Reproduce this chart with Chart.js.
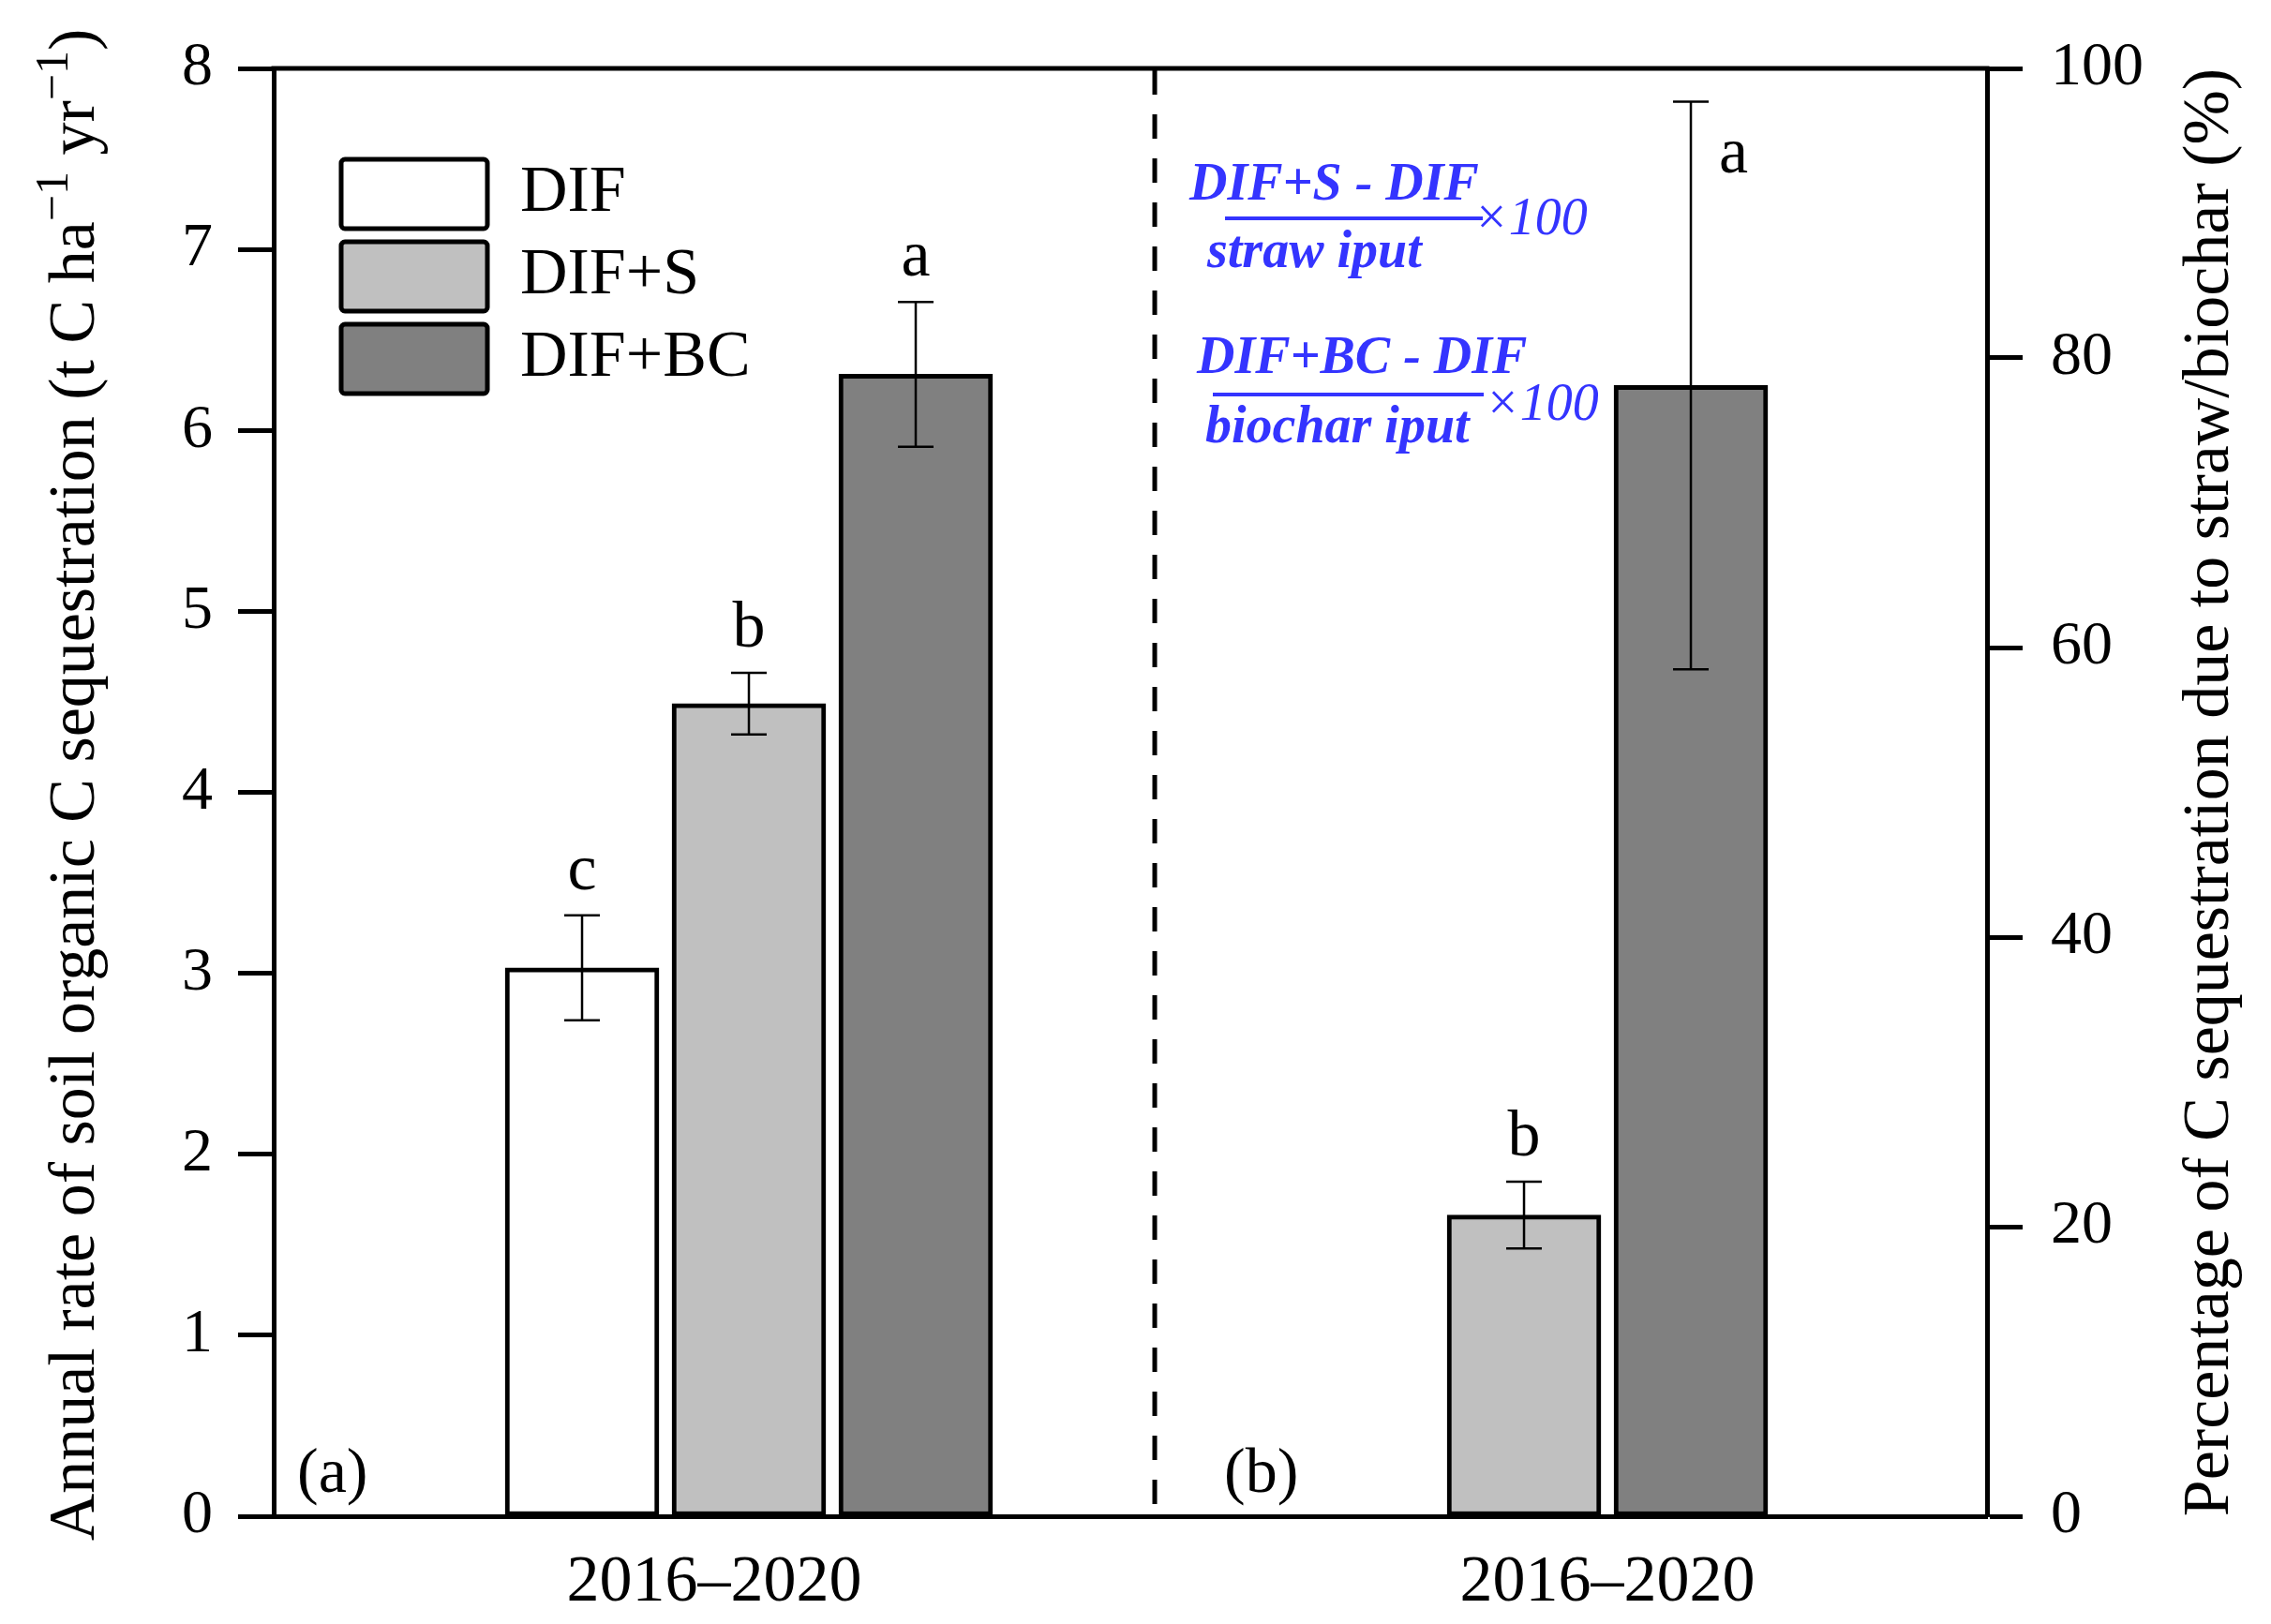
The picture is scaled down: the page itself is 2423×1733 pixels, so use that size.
<!DOCTYPE html>
<html>
<head>
<meta charset="utf-8">
<script src="https://cdn.jsdelivr.net/npm/chart.js@4.4.1/dist/chart.umd.min.js"></script>
<style>
  html, body { margin: 0; padding: 0; background: #fff; }
</style>
</head>
<body>
<canvas id="myChart" width="2423" height="1733"></canvas>
<script>
// ---- data ----
var periods = ['2016–2020', '2016–2020'];
var groups = [0, 1];                       // (a) rate, (b) percentage
var treatments = ['DIF', 'DIF+S', 'DIF+BC'];
var fills = ['#ffffff', '#c0c0c0', '#808080'];

// (a) annual rate of SOC sequestration, t C ha-1 yr-1
var rateMean = [3.03, 4.49, 6.31];
var rateErr = [0.29, 0.17, 0.40];
var rateLetters = ['c', 'b', 'a'];

// (b) percentage of C sequestration due to straw / biochar
var pctMean = [null, 20.8, 78.1];
var pctErr = [null, 2.3, 19.6];
var pctLetters = [null, 'b', 'a'];

var leftMax = 8, leftStep = 1;
var rightMax = 100, rightStep = 20;
var xMin = -0.5535, xMax = 1.4421;
var dividerAt = 0.4727;

var serif = '"Liberation Serif", "Times New Roman", serif';
var blue = '#3434ff';

var datasets = [];
treatments.forEach(function(name, k) {
  datasets.push({
    label: name,
    data: [rateMean[k], null],
    err: [rateErr[k], null],
    letters: [rateLetters[k], null],
    backgroundColor: fills[k],
    yAxisID: 'y'
  });
});
treatments.forEach(function(name, k) {
  if (pctMean[k] === null) return;
  datasets.push({
    label: name + ' %',
    data: [null, pctMean[k]],
    err: [null, pctErr[k]],
    letters: [null, pctLetters[k]],
    backgroundColor: fills[k],
    yAxisID: 'y1'
  });
});

// error bars and significance letters
var errorBars = {
  id: 'errorBars',
  afterDatasetsDraw: function(chart) {
    var ctx = chart.ctx;
    var area = chart.chartArea;
    ctx.save();
    ctx.strokeStyle = '#000';
    ctx.fillStyle = '#000';
    ctx.lineWidth = 2.5;
    ctx.font = '70px ' + serif;
    chart.data.datasets.forEach(function(ds, di) {
      var meta = chart.getDatasetMeta(di);
      var scale = chart.scales[ds.yAxisID];
      ds.data.forEach(function(v, i) {
        if (v === null) return;
        var x = meta.data[i].x;
        var hi = scale.getPixelForValue(v + ds.err[i]);
        var lo = scale.getPixelForValue(v - ds.err[i]);
        ctx.beginPath();
        ctx.moveTo(x, hi); ctx.lineTo(x, lo);
        ctx.moveTo(x - 19, hi); ctx.lineTo(x + 19, hi);
        ctx.moveTo(x - 19, lo); ctx.lineTo(x + 19, lo);
        ctx.stroke();
        var letter = ds.letters[i];
        if (!letter) return;
        ctx.textBaseline = 'alphabetic';
        if (hi - 90 < area.top) {
          ctx.textAlign = 'left';
          ctx.fillText(letter, x + 30, hi + 75);
        } else {
          ctx.textAlign = 'center';
          ctx.fillText(letter, x, hi - 28);
        }
      });
    });
    ctx.restore();
  }
};

function drawRotated(ctx, cy, baseX, parts) {
  ctx.save();
  ctx.translate(baseX, cy);
  ctx.rotate(-Math.PI / 2);
  ctx.textAlign = 'left';
  ctx.textBaseline = 'alphabetic';
  var total = 0;
  parts.forEach(function(p) {
    ctx.font = p.size + 'px ' + serif;
    p.w = ctx.measureText(p.t).width;
    total += p.w;
  });
  var x = -total / 2;
  parts.forEach(function(p) {
    ctx.font = p.size + 'px ' + serif;
    ctx.fillText(p.t, x, -(p.rise || 0));
    x += p.w;
  });
  ctx.restore();
}

// frame, divider, titles, panel tags and the formulas
var decorations = {
  id: 'decorations',
  afterLayout: function(chart) {
    var lg = chart.legend, area = chart.chartArea;
    lg.left = area.left + 58;
    lg.top = area.top + 83;
    lg.right = lg.left + lg.width;
    lg.bottom = lg.top + lg.height;
  },
  afterDraw: function(chart) {
    var ctx = chart.ctx;
    var area = chart.chartArea;
    var xs = chart.scales.x;
    var midY = (area.top + area.bottom) / 2;
    ctx.save();
    ctx.strokeStyle = '#000';
    ctx.lineWidth = 5;
    ctx.beginPath();
    ctx.moveTo(area.left - 2.5, area.top);
    ctx.lineTo(area.right + 2.5, area.top);
    ctx.stroke();

    var dx = xs.getPixelForValue(dividerAt);
    ctx.lineWidth = 5;
    ctx.setLineDash([26, 21]);
    ctx.beginPath();
    ctx.moveTo(dx, area.top + 2);
    ctx.lineTo(dx, area.bottom);
    ctx.stroke();
    ctx.setLineDash([]);

    ctx.fillStyle = '#000';
    drawRotated(ctx, midY - 8, 100, [
      { t: 'Annual rate of soil organic C sequestration (t C ha', size: 70 },
      { t: '−1', size: 50, rise: 28 },
      { t: ' yr', size: 70 },
      { t: '−1', size: 50, rise: 28 },
      { t: ')', size: 70 }
    ]);
    drawRotated(ctx, midY, 2377, [
      { t: 'Percentage of C sequestration due to straw/biochar (%)', size: 70 }
    ]);

    ctx.font = '68px ' + serif;
    ctx.textAlign = 'left';
    ctx.textBaseline = 'alphabetic';
    ctx.fillText('(a)', area.left + 25, area.bottom - 26);
    ctx.fillText('(b)', dx + 74, area.bottom - 26);

    // formulas
    var fx = dx, fy = area.top;
    ctx.fillStyle = blue;
    ctx.strokeStyle = blue;
    ctx.lineWidth = 4;
    ctx.font = 'italic bold 56px ' + serif;
    ctx.fillText('DIF+S - DIF', fx + 37, fy + 140);
    ctx.fillText('straw iput', fx + 56, fy + 212);
    ctx.fillText('DIF+BC - DIF', fx + 45, fy + 325);
    ctx.fillText('biochar iput', fx + 54, fy + 399);
    ctx.beginPath();
    ctx.moveTo(fx + 75, fy + 160); ctx.lineTo(fx + 350, fy + 160);
    ctx.moveTo(fx + 62, fy + 348); ctx.lineTo(fx + 351, fy + 348);
    ctx.stroke();
    ctx.font = 'italic 56px ' + serif;
    ctx.fillText('×100', fx + 340, fy + 177);
    ctx.fillText('×100', fx + 352, fy + 375);
    ctx.restore();
  }
};

Chart.defaults.font.family = serif;
Chart.defaults.color = '#000';

var axisStyle = {
  grid: { display: true, drawOnChartArea: false, drawTicks: true, tickLength: 38, tickWidth: 5, tickColor: '#000' },
  border: { display: true, color: '#000', width: 5 }
};

var ctx = document.getElementById('myChart').getContext('2d');
var myChart = new Chart(ctx, {
  type: 'bar',
  data: { labels: groups, datasets: datasets },
  plugins: [errorBars, decorations],
  options: {
    responsive: false,
    animation: false,
    devicePixelRatio: 1,
    events: [],
    layout: { padding: { top: 73, left: 0, right: 0, bottom: 0 } },
    datasets: {
      bar: {
        skipNull: true,
        barThickness: 178,
        maxBarThickness: 164,
        borderSkipped: false,
        borderWidth: 5,
        borderColor: '#000'
      }
    },
    plugins: {
      tooltip: { enabled: false },
      legend: {
        position: 'chartArea',
        align: 'start',
        labels: {
          boxWidth: 156,
          boxHeight: 74,
          padding: 14,
          useBorderRadius: true,
          borderRadius: 4,
          color: '#000',
          font: { size: 70 },
          filter: function(item) { return item.datasetIndex < treatments.length; }
        }
      }
    },
    scales: {
      x: {
        type: 'linear',
        position: 'bottom',
        offset: false,
        min: xMin,
        max: xMax,
        grid: { display: false, drawTicks: false },
        border: { display: true, color: '#000', width: 5 },
        // panel (a) label sits mid-panel, panel (b) label under its bars
        afterBuildTicks: function(scale) {
          scale.ticks = [{ value: (xMin + dividerAt) / 2 }, { value: groups[1] }];
        },
        afterFit: function(scale) { scale.height = 115; },
        ticks: {
          padding: 30,
          maxRotation: 0,
          font: { size: 70 },
          callback: function(value, index) { return periods[index]; }
        }
      },
      y: Object.assign({
        position: 'left',
        min: 0,
        max: leftMax,
        afterFit: function(scale) { scale.width = 292; },
        ticks: { stepSize: leftStep, padding: 27, font: { size: 66 } }
      }, axisStyle),
      y1: Object.assign({
        position: 'right',
        min: 0,
        max: rightMax,
        afterFit: function(scale) { scale.width = 303; },
        ticks: { stepSize: rightStep, padding: 30, font: { size: 66 } }
      }, axisStyle)
    }
  }
});
</script>
</body>
</html>
